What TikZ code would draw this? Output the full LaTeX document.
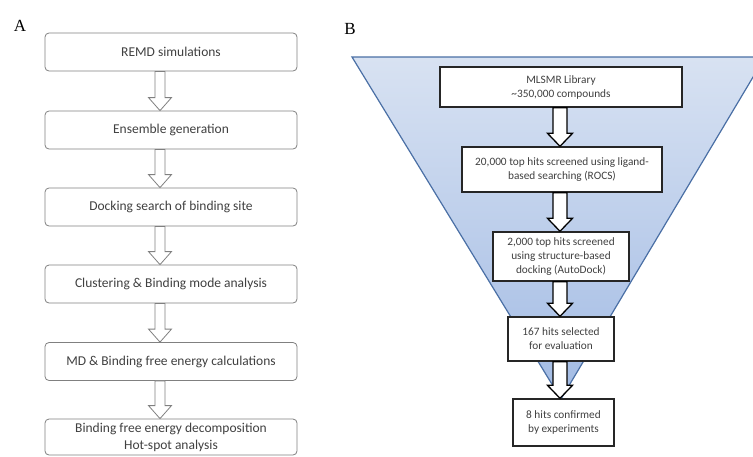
\documentclass[tikz,border=0pt]{standalone}
\usepackage{fontspec}
\setmainfont{Carlito}
\newfontfamily\panelfont{Liberation Serif}
\usetikzlibrary{calc}

\definecolor{boxgray}{HTML}{808080}
\definecolor{textgray}{HTML}{404040}
\definecolor{funneltop}{HTML}{D8E2F2}
\definecolor{funnelbot}{HTML}{A2BBE4}
\definecolor{funnelline}{HTML}{4A6FA5}

% hollow block arrow: style, from, to, shaft half width, head half width
\newcommand{\blockarrow}[5]{%
  \filldraw[#1] let \p1=(#2), \p2=(#3) in
    (\x1-#4,\y1) -- (\x1-#4,\y2+13pt) -- (\x1-#5,\y2+13pt) -- (\x1,\y2)
    -- (\x1+#5,\y2+13pt) -- (\x1+#4,\y2+13pt) -- (\x1+#4,\y1) -- cycle;}

\begin{document}
\begin{tikzpicture}[x=1pt, y=-1pt,
    stepA/.style={draw=boxgray, line width=0.8pt, rounded corners=4pt, fill=white,
      minimum width=252pt, minimum height=38pt, inner sep=0pt, align=center,
      text=textgray, font=\fontsize{13.5}{17}\selectfont},
    stepB/.style={draw=black!85, line width=1.4pt, fill=white, inner sep=0pt,
      align=center, text=textgray, font=\fontsize{11.3}{14}\selectfont},
    arrowA/.style={draw=boxgray, line width=0.8pt, fill=white},
    arrowB/.style={draw=black, line width=1.3pt, fill=white},
    panel/.style={font=\panelfont\fontsize{17}{17}\selectfont}]
  \useasboundingbox (0,0) rectangle (753,456);

  % panel A
  \node[panel] (labA) at (20,26) {A};
  \node[stepA] (remd) at (171,52) {REMD simulations};
  \node[stepA] (ensemble) at (171,130) {Ensemble generation};
  \node[stepA] (docking) at (171,207) {Docking search of binding site};
  \node[stepA] (cluster) at (171,284) {Clustering \& Binding mode analysis};
  \node[stepA] (mdcalc) at (171,361.5) {MD \& Binding free energy calculations};
  \node[stepA, minimum height=36pt] (decomp) at (171,437) {Binding free energy decomposition\\Hot-spot analysis};

  \blockarrow{arrowA}{[xshift=-11pt]remd.south}{ensemble.north}{5pt}{11.5pt}
  \blockarrow{arrowA}{[xshift=-11pt]ensemble.south}{docking.north}{5pt}{11.5pt}
  \blockarrow{arrowA}{[xshift=-11pt]docking.south}{cluster.north}{5pt}{11.5pt}
  \blockarrow{arrowA}{[xshift=-11pt]cluster.south}{mdcalc.north}{5pt}{11.5pt}
  \blockarrow{arrowA}{[xshift=-11pt]mdcalc.south}{decomp.north}{5pt}{11.5pt}

  % panel B
  \node[panel] (labB) at (350,29) {B};
  \path[draw=funnelline, line width=1.2pt, top color=funneltop, bottom color=funnelbot]
    (352,57) -- (765,57) -- (561,399) -- cycle;

  \node[stepB, minimum width=242pt, minimum height=40pt] (library) at (561,87)
    {MLSMR Library\\\textasciitilde350,000 compounds};
  \node[stepB, minimum width=200pt, minimum height=45pt] (rocs) at (562,169.5)
    {20,000 top hits screened using ligand-\\based searching (ROCS)};
  \node[stepB, minimum width=136pt, minimum height=49pt] (autodock) at (561,256.5)
    {2,000 top hits screened\\using structure-based\\docking (AutoDock)};
  \node[stepB, minimum width=106pt, minimum height=44pt] (selected) at (561,339)
    {167 hits selected\\for evaluation};
  \node[stepB, minimum width=101pt, minimum height=47pt] (confirmed) at (563.5,422.5)
    {8 hits confirmed\\by experiments};

  \blockarrow{arrowB}{[xshift=-1pt]library.south}{rocs.north}{7pt}{12.5pt}
  \blockarrow{arrowB}{[xshift=-2pt]rocs.south}{autodock.north}{7pt}{12.5pt}
  \blockarrow{arrowB}{[xshift=-1pt]autodock.south}{selected.north}{7pt}{12.5pt}
  \blockarrow{arrowB}{[xshift=-1pt]selected.south}{confirmed.north}{7pt}{12.5pt}
\end{tikzpicture}
\end{document}
